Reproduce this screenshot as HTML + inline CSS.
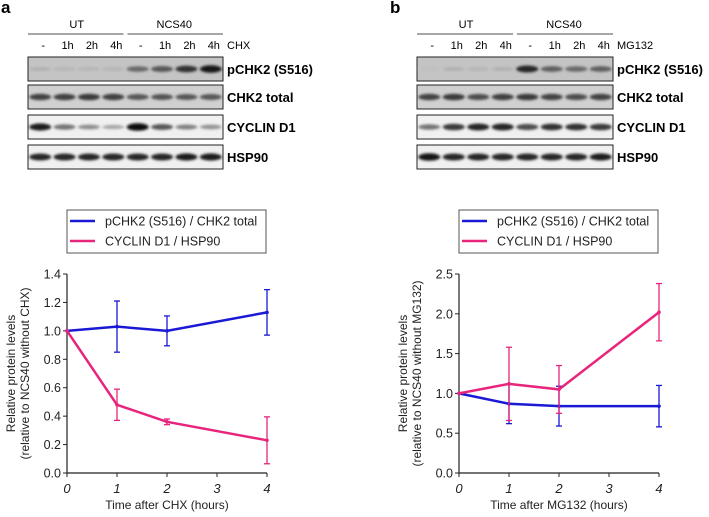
<!DOCTYPE html>
<html><head><meta charset="utf-8"><style>
body{margin:0;background:#fff;}
svg{display:block;font-family:"Liberation Sans",Arial,sans-serif;}
</style></head><body>
<svg id="fig" width="709" height="517" viewBox="0 0 709 517">
<defs><filter id="bl" x="-20%" y="-50%" width="140%" height="200%"><feGaussianBlur stdDeviation="1.4"/></filter></defs>
<g id="root"></g>
</svg>
<script>
// ---- chart data ----
const timepoints = [0, 1, 2, 4];
const xTicks = [0, 1, 2, 3, 4];
const aBlue = [1.0, 1.03, 1.0, 1.13];
const aBlueErr = [0, 0.18, 0.105, 0.16];
const aPink = [1.0, 0.48, 0.36, 0.23];
const aPinkErr = [0, 0.11, 0.02, 0.165];
const aYTicks = [0, 0.2, 0.4, 0.6, 0.8, 1.0, 1.2, 1.4];
const bBlue = [1.0, 0.87, 0.84, 0.84];
const bBlueErr = [0, 0.25, 0.25, 0.26];
const bPink = [1.0, 1.12, 1.05, 2.02];
const bPinkErr = [0, 0.46, 0.3, 0.36];
const bYTicks = [0, 0.5, 1.0, 1.5, 2.0, 2.5];
const laneLabels = ['-', '1h', '2h', '4h', '-', '1h', '2h', '4h'];
const rowLabels = ['pCHK2 (S516)', 'CHK2 total', 'CYCLIN D1', 'HSP90'];
// band intensities (0..1) per row per lane
const aBands = [[0.12,0.1,0.1,0.1,0.5,0.6,0.8,0.95],[0.7,0.72,0.75,0.72,0.6,0.62,0.6,0.6],[0.9,0.45,0.3,0.18,1.0,0.6,0.38,0.28],[0.85,0.85,0.85,0.85,0.85,0.85,0.9,0.9]];
const bBands = [[0.05,0.12,0.1,0.12,0.85,0.55,0.5,0.55],[0.7,0.75,0.65,0.72,0.75,0.7,0.65,0.7],[0.45,0.75,0.85,0.85,0.65,0.8,0.8,0.75],[0.95,0.85,0.85,0.85,0.85,0.85,0.85,0.9]];

const NS='http://www.w3.org/2000/svg';
const root=document.getElementById('root');
function mk(tag,attrs,parent,text){const e=document.createElementNS(NS,tag);for(const k in attrs)e.setAttribute(k,attrs[k]);if(text!==undefined)e.textContent=text;(parent||root).appendChild(e);return e;}

function blot(x0,x1,treat,bands,panelName){
  const g=mk('g',{});
  
  
  const mid=(x0+x1)/2;
  let t=mk('text',{x:(x0+mid)/2,y:28,'font-size':11,'text-anchor':'middle'},g,'UT');
  
  t=mk('text',{x:(mid+x1)/2,y:28,'font-size':11,'text-anchor':'middle'},g,'NCS40');
  
  mk('line',{x1:x0,x2:mid-2,y1:34,y2:34,stroke:'#888','stroke-width':1.5},g);
  mk('line',{x1:mid+2,x2:x1,y1:34,y2:34,stroke:'#888','stroke-width':1.5},g);
  const lw=(x1-x0)/8;
  laneLabels.forEach((l,i)=>{
    const tt=mk('text',{x:x0+lw*(i+0.5)+3,y:49,'font-size':11,'text-anchor':'middle'},g,l);
    
  });
  const tl=mk('text',{x:x1+4,y:49,'font-size':11},g,treat);
  
  const rowsY=[57,85,115,145];
  rowsY.forEach((ry,r)=>{
    const bg=r===0?'#c4c4c4':(r===1?'#d0d0d0':'#f0f0f0');
    const rect=mk('rect',{x:x0,y:ry,width:x1-x0,height:24,fill:bg,stroke:'#222','stroke-width':1},g);
    
    bands[r].forEach((v,i)=>{
      const c=Math.round(200-190*v);
      const e=mk('ellipse',{cx:x0+lw*(i+0.5),cy:ry+12,rx:lw*0.45,ry:1.8+2*v,fill:`rgb(${c},${c},${c})`,filter:'url(#bl)'},g);
      
    });
    const lab=mk('text',{x:x1+4,y:ry+17,'font-size':13,'font-weight':'bold'},g,rowLabels[r]);
    
  });
}

function chart(ax,yMax,yTicks,blue,blueErr,pink,pinkErr,treat,name){
  const g=mk('g',{});
  
  
  const top=274,bot=473,x4=ax+200;
  const X=v=>ax+v*(x4-ax)/4, Y=v=>bot-v*(bot-top)/yMax;
  const lg=mk('g',{},g);
  
  mk('rect',{x:ax,y:210,width:199,height:43,fill:'#fff',stroke:'#555','stroke-width':1},lg);
  [['#1a1ad6','pCHK2 (S516) / CHK2 total',221],['#e8257c','CYCLIN D1 / HSP90',241]].forEach(([c,t,y])=>{
    const le=mk('g',{},lg);
    
    mk('line',{x1:ax+3,x2:ax+28,y1:y,y2:y,stroke:c,'stroke-width':2.5},le);
    mk('text',{x:ax+38,y:y+4.5,'font-size':12.5,fill:'#222'},le,t);
  });
  const ya=mk('line',{x1:ax,x2:ax,y1:top,y2:bot,stroke:'#222','stroke-width':1.2},g);
  
  const xa=mk('line',{x1:ax,x2:x4,y1:bot,y2:bot,stroke:'#222','stroke-width':1.2},g);
  
  yTicks.forEach(v=>{
    mk('line',{x1:ax-4,x2:ax,y1:Y(v),y2:Y(v),stroke:'#222'},g);
    const t=mk('text',{x:ax-6,y:Y(v)+4.5,'font-size':12.5,'text-anchor':'end',fill:'#222'},g,v.toFixed(1));
    
  });
  xTicks.forEach(v=>{
    mk('line',{x1:X(v),x2:X(v),y1:bot,y2:bot+4,stroke:'#222'},g);
    const t=mk('text',{x:X(v),y:bot+20,'font-size':13,'font-style':'italic','text-anchor':'middle',fill:'#222'},g,String(v));
    
  });
  const xt=mk('text',{x:(ax+x4)/2,y:509,'font-size':12,'text-anchor':'middle',fill:'#222'},g,'Time after '+treat+' (hours)');
  
  const cy=(top+bot)/2;
  const yt=mk('text',{transform:`translate(${ax-52},${cy}) rotate(-90)`,'font-size':12,'text-anchor':'middle',fill:'#222'},g);
  
  mk('tspan',{x:0,dy:0},yt,'Relative protein levels');
  mk('tspan',{x:0,dy:14},yt,'(relative to NCS40 without '+treat+')');
  [[blue,blueErr,'#1a1ad6','series-pchk2'],[pink,pinkErr,'#e8257c','series-cyclin-d1']].forEach(([vals,errs,c,nm])=>{
    const sg=mk('g',{},g);
    
    vals.forEach((v,i)=>{
      if(errs[i]>0){
        const x=X(timepoints[i]);
        mk('line',{x1:x,x2:x,y1:Y(v-errs[i]),y2:Y(v+errs[i]),stroke:c,'stroke-width':1.3},sg);
        mk('line',{x1:x-3,x2:x+3,y1:Y(v-errs[i]),y2:Y(v-errs[i]),stroke:c,'stroke-width':1.3},sg);
        mk('line',{x1:x-3,x2:x+3,y1:Y(v+errs[i]),y2:Y(v+errs[i]),stroke:c,'stroke-width':1.3},sg);
      }
    });
    const pl=mk('polyline',{points:vals.map((v,i)=>X(timepoints[i])+','+Y(v)).join(' '),fill:'none',stroke:c,'stroke-width':2.5},sg);
    
    vals.forEach((v,i)=>{
      const p=mk('circle',{cx:X(timepoints[i]),cy:Y(v),r:1.8,fill:c},sg);
      
    });
  });
}

let pa=mk('text',{x:1,y:13,'font-size':17,'font-weight':'bold'},root,'a');

let pb=mk('text',{x:390,y:13,'font-size':17,'font-weight':'bold'},root,'b');

blot(28,223,'CHX',aBands,'blot-a');
blot(417,613,'MG132',bBands,'blot-b');
chart(67,1.4,aYTicks,aBlue,aBlueErr,aPink,aPinkErr,'CHX','chart-a');
chart(459,2.5,bYTicks,bBlue,bBlueErr,bPink,bPinkErr,'MG132','chart-b');
</script>
</body></html>
